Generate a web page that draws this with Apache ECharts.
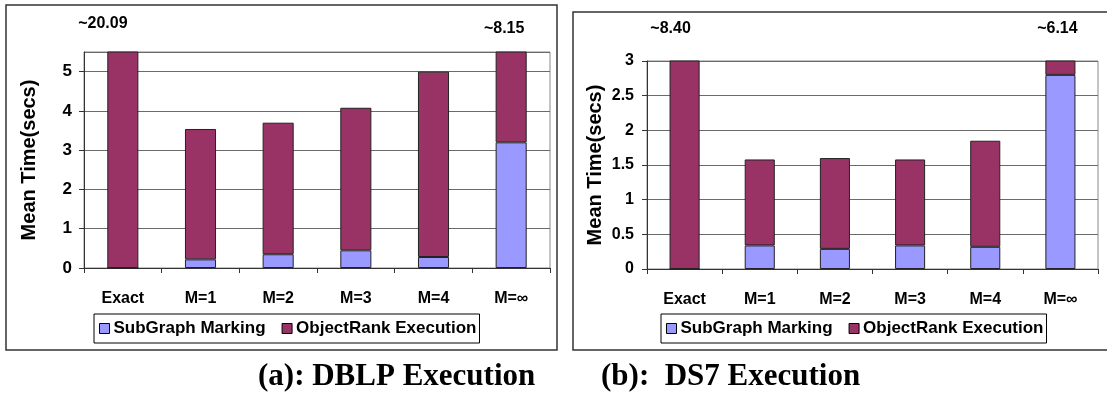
<!DOCTYPE html>
<html>
<head>
<meta charset="utf-8">
<script src="https://cdn.jsdelivr.net/npm/echarts@6/dist/echarts.min.js"></script>
<style>
html,body{margin:0;padding:0;background:#fff;}
#c{width:1107px;height:394px;}
</style>
</head>
<body>
<div id="c"></div>
<script>
// ---- data ----
var categories = ['Exact', 'M=1', 'M=2', 'M=3', 'M=4', 'M=\u221e'];
var seriesNames = ['SubGraph Marking', 'ObjectRank Execution'];
// (a) DBLP
var dblpSubgraph = [0, 0.22, 0.35, 0.45, 0.28, 3.20];
var dblpTotal    = [20.09, 3.54, 3.70, 4.08, 5.00, 8.15];
// (b) DS7
var ds7Subgraph  = [0, 0.34, 0.29, 0.34, 0.32, 2.80];
var ds7Total     = [8.40, 1.58, 1.60, 1.58, 1.85, 6.14];
var dblpMax = 5.5, dblpInterval = 1;
var ds7Max = 3, ds7Interval = 0.5;
var captions = ['(a): DBLP Execution', '(b):  DS7 Execution'];
var axisTitle = 'Mean Time(secs)';

var FONT = 'Liberation Sans, Arial, sans-serif';
var PURPLE = '#993366', BLUE = '#9999ff';

function overflowItems(sub, total, max, labelCfg) {
  return total.map(function (t, i) {
    var v = +(t - sub[i]).toFixed(4);
    if (t > max && labelCfg[i]) {
      return {
        value: v,
        label: {
          show: true, position: 'top',
          distance: labelCfg[i].distance, offset: [labelCfg[i].dx, 0],
          formatter: '~' + t.toFixed(2),
          fontFamily: FONT, fontWeight: 'bold', fontSize: 16, color: '#000'
        }
      };
    }
    return v;
  });
}

var leftLabelCfg = [{dx: -20, distance: 20}, null, null, null, null, {dx: -7, distance: 15}];
var rightLabelCfg = [{dx: -14, distance: 24}, null, null, null, null, {dx: -3, distance: 24}];

function xAxisCfg(gridIndex) {
  return {
    type: 'category', gridIndex: gridIndex, data: categories,
    axisLine: {lineStyle: {color: '#333', width: 1}},
    axisTick: {show: true, length: 5, lineStyle: {color: '#333'}},
    axisLabel: {margin: 23, fontFamily: FONT, fontWeight: 'bold', fontSize: 16, color: '#000'},
    splitLine: {show: false}
  };
}
function yAxisCfg(gridIndex, max, interval, fs, gap, margin) {
  return {
    type: 'value', gridIndex: gridIndex, min: 0, max: max, interval: interval,
    name: axisTitle, nameLocation: 'middle', nameRotate: 90, nameGap: gap,
    nameTextStyle: {fontFamily: FONT, fontWeight: 'bold', fontSize: 20, color: '#000'},
    axisLine: {show: true, lineStyle: {color: '#333', width: 1}},
    axisTick: {show: true, length: 5, lineStyle: {color: '#333'}},
    axisLabel: {margin: margin, fontFamily: FONT, fontWeight: 'bold', fontSize: fs, color: '#000', showMaxLabel: max % interval === 0},
    splitLine: {show: true, lineStyle: {color: '#6a6a6a', width: 1}}
  };
}
function barSeries(name, idx, data, color, stack) {
  return {
    name: name, type: 'bar', stack: stack, xAxisIndex: idx, yAxisIndex: idx,
    data: data, barWidth: '40%', clip: true,
    itemStyle: {color: color, borderColor: '#222', borderWidth: 1},
    emphasis: {disabled: true}, animation: false
  };
}
function legendCfg(left) {
  return {
    data: seriesNames, left: left, top: 314, orient: 'horizontal',
    icon: 'rect', itemWidth: 10, itemHeight: 10, itemGap: 16,
    padding: [6, 3, 6, 5], borderColor: '#000', borderWidth: 1,
    itemStyle: {borderColor: '#000', borderWidth: 1},
    textStyle: {fontFamily: FONT, fontWeight: 'bold', fontSize: 17, color: '#000', padding: [0, 0, 0, -1]},
    selectedMode: false
  };
}

var option = {
  backgroundColor: '#fff',
  animation: false,
  title: [
    {text: captions[0], left: 258, top: 361, padding: 0,
     textStyle: {fontFamily: 'Liberation Serif, Times New Roman, serif', fontWeight: 'bold', fontSize: 31, color: '#000'}},
    {text: captions[1], left: 601, top: 361, padding: 0,
     textStyle: {fontFamily: 'Liberation Serif, Times New Roman, serif', fontWeight: 'bold', fontSize: 31, color: '#000'}}
  ],
  graphic: [
    {type: 'rect', shape: {x: 6, y: 5, width: 551, height: 345}, style: {fill: 'none', stroke: '#333', lineWidth: 1.5}, silent: true},
    {type: 'rect', shape: {x: 573, y: 12, width: 560, height: 338}, style: {fill: 'none', stroke: '#333', lineWidth: 1.5}, silent: true}
  ],
  legend: [legendCfg(94), legendCfg(661)],
  grid: [
    {left: 84, right: 557, top: 52, bottom: 126, show: true, borderColor: '#888', borderWidth: 1},
    {left: 647, right: 9, top: 61, bottom: 125, show: true, borderColor: '#888', borderWidth: 1}
  ],
  xAxis: [xAxisCfg(0), xAxisCfg(1)],
  yAxis: [yAxisCfg(0, dblpMax, dblpInterval, 17, 45, 12), yAxisCfg(1, ds7Max, ds7Interval, 16, 42, 13)],
  series: [
    barSeries(seriesNames[0], 0, dblpSubgraph, BLUE, 'a'),
    barSeries(seriesNames[1], 0, overflowItems(dblpSubgraph, dblpTotal, dblpMax, leftLabelCfg), PURPLE, 'a'),
    barSeries(seriesNames[0], 1, ds7Subgraph, BLUE, 'b'),
    barSeries(seriesNames[1], 1, overflowItems(ds7Subgraph, ds7Total, ds7Max, rightLabelCfg), PURPLE, 'b')
  ]
};
var chart = echarts.init(document.getElementById('c'), null, {renderer: 'canvas'});
chart.setOption(option);
</script>
</body>
</html>
